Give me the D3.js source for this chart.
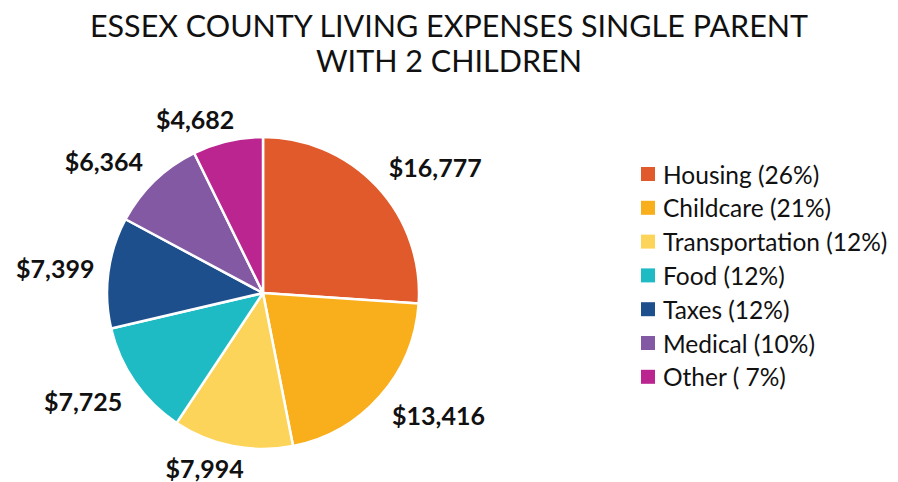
<!DOCTYPE html>
<html lang="en">
  <head>
    <meta charset="UTF-8" />
    <title>Essex County Living Expenses</title>
    <script src="https://cdn.jsdelivr.net/npm/d3@7"></script>
    <style>
      body {
        margin: 0;
        padding: 0;
        background: #fff;
      }
      svg text {
        font-family: Lato, "Open Sans", sans-serif;
        fill: #111;
      }
    </style>
  </head>
  <body>
    <svg id="chart" width="898" height="482"></svg>

    <script>
      const categories = ["Housing", "Childcare", "Transportation", "Food", "Taxes", "Medical", "Other"];
      const values = [16777, 13416, 7994, 7725, 7399, 6364, 4682];
      const legendLabels = [
        "Housing (26%)",
        "Childcare (21%)",
        "Transportation (12%)",
        "Food (12%)",
        "Taxes (12%)",
        "Medical (10%)",
        "Other ( 7%)",
      ];
      const colors = ["#e05a2b", "#f9ae1b", "#fdd45a", "#1fbbc4", "#1d4f8c", "#8359a3", "#bb2590"];

      const svg = d3.select("#chart");
      const cx = 263,
        cy = 293,
        radius = 156;

      // title, two lines
      const title = svg.append("text").attr("text-anchor", "middle").style("font-size", "31px");
      title
        .append("tspan")
        .attr("x", 449)
        .attr("y", 37)
        .attr("textLength", 718)
        .attr("lengthAdjust", "spacingAndGlyphs")
        .text("ESSEX COUNTY LIVING EXPENSES SINGLE PARENT");
      title
        .append("tspan")
        .attr("x", 449)
        .attr("y", 72)
        .attr("textLength", 266)
        .attr("lengthAdjust", "spacingAndGlyphs")
        .text("WITH 2 CHILDREN");

      const color = d3.scaleOrdinal().domain(categories).range(colors);
      const fmt = d3.format(",");

      const pie = d3.pie().sort(null).value((d, i) => values[i]);
      const arcs = pie(categories);
      const arc = d3.arc().innerRadius(0).outerRadius(radius);

      const g = svg.append("g").attr("transform", `translate(${cx},${cy})`);

      g.selectAll("path")
        .data(arcs)
        .enter()
        .append("path")
        .attr("d", arc)
        .attr("fill", (d) => color(d.data))
        .attr("stroke", "#fff")
        .attr("stroke-width", 2.5)
        .attr("stroke-linejoin", "round");

      // data labels outside the end of each slice
      const labels = g
        .selectAll("text.lbl")
        .data(arcs)
        .enter()
        .append("text")
        .attr("class", "lbl")
        .attr("text-anchor", "middle")
        .attr("dominant-baseline", "central")
        .style("font-size", "25px")
        .style("font-weight", "bold")
        .text((d) => "$" + fmt(d.value));

      labels.each(function (d) {
        const a = (d.startAngle + d.endAngle) / 2;
        const s = Math.sin(a),
          c = Math.cos(a);
        const w = this.getComputedTextLength();
        const r = radius + 8;
        const kx = Math.max(-1, Math.min(1, s * 3));
        const ky = Math.sign(c) * Math.min(1, Math.abs(c) * 2);
        const x = r * s + (w / 2 + 6) * kx;
        const y = -r * c - 14 * ky;
        d3.select(this).attr("x", x).attr("y", y);
      });

      // legend
      const legend = svg
        .append("g")
        .selectAll("g")
        .data(categories)
        .enter()
        .append("g")
        .attr("transform", (d, i) => `translate(641,${174 + i * 33.8})`);

      legend
        .append("rect")
        .attr("x", 0)
        .attr("y", -7)
        .attr("width", 14)
        .attr("height", 14)
        .attr("fill", (d) => color(d));

      legend
        .append("text")
        .attr("x", 22)
        .attr("y", 0)
        .attr("dominant-baseline", "central")
        .style("font-size", "24.5px")
        .text((d, i) => legendLabels[i]);
    </script>
  </body>
</html>
